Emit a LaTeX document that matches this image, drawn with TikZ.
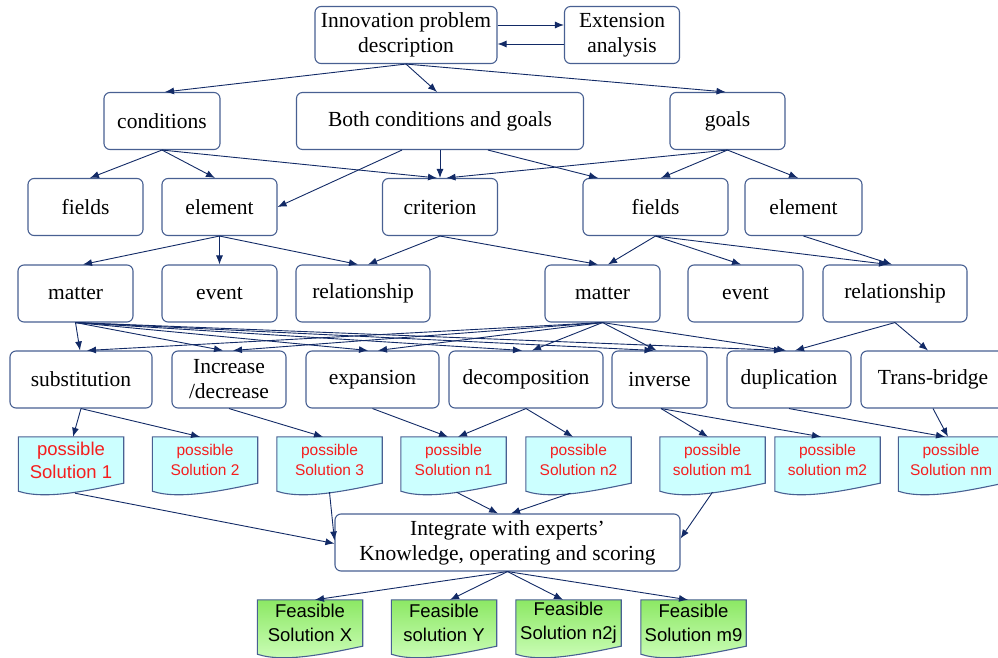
\documentclass[tikz,border=0pt]{standalone}
\usepackage{fontspec}
\setmainfont{Liberation Serif}
\setsansfont{Liberation Sans}
\usepackage{xcolor}
\usetikzlibrary{arrows.meta}
\usetikzlibrary{backgrounds}
\definecolor{boxline}{RGB}{72,96,146}
\definecolor{arrowc}{RGB}{18,42,102}
\definecolor{possfill}{RGB}{204,255,255}
\definecolor{posstext}{RGB}{245,30,30}
\definecolor{feastop}{RGB}{140,232,100}
\definecolor{feasbot}{RGB}{208,255,190}
\tikzset{box/.style={draw=boxline, line width=1.1pt, rounded corners=6pt, fill=white,
   align=center, inner sep=0pt, minimum height=57pt, font=\fontsize{21.5}{25}\selectfont},
 poss/.style={minimum width=105pt, minimum height=46pt, inner sep=0pt, align=center,
   text=posstext, font=\sffamily\fontsize{15.5}{19.5}\selectfont},
 feas/.style={poss, text=black, font=\sffamily\fontsize{18.5}{24}\selectfont},
 docline/.style={draw=boxline, line width=1.1pt},
 arr/.style={draw=arrowc, line width=0.9pt, -{Latex[length=9pt,width=7pt]}},
 }

\begin{document}
\begin{tikzpicture}[x=1pt, y=-1pt]
        \useasboundingbox (0,0) rectangle (998,658);
        \node[box, minimum width=182pt] (ipd) at (406,35) {Innovation problem\\description};
        \node[box, minimum width=115pt] (ext) at (622,35) {Extension\\analysis};

        \node[box, minimum width=116pt] (cond) at (162,121) {conditions};
        \node[box, minimum width=287pt] (both) at (440,121) {Both conditions and goals};
        \node[box, minimum width=115pt] (goals) at (727.5,121) {goals};

        \node[box, minimum width=115pt] (fields1) at (85.5,207) {fields};
        \node[box, minimum width=115pt] (elem1) at (219.5,207) {element};
        \node[box, minimum width=115pt] (crit) at (440,207) {criterion};
        \node[box, minimum width=145pt] (fields2) at (655.5,207) {fields};
        \node[box, minimum width=117pt] (elem2) at (803.5,207) {element};

        \node[box, minimum width=115pt] (matter1) at (75.5,293.5) {matter};
        \node[box, minimum width=115pt] (event1) at (219.5,293.5) {event};
        \node[box, minimum width=134pt] (rel1) at (363,293.5) {relationship};
        \node[box, minimum width=115pt] (matter2) at (602.5,293.5) {matter};
        \node[box, minimum width=115pt] (event2) at (745.5,293.5) {event};
        \node[box, minimum width=144pt] (rel2) at (895,293.5) {relationship};

        \node[box, minimum width=142pt] (subst) at (81,379.5) {substitution};
        \node[box, minimum width=114pt] (incr) at (229,379.5) {Increase\\/decrease};
        \node[box, minimum width=133pt] (expa) at (372.5,379.5) {expansion};
        \node[box, minimum width=154pt] (deco) at (526,379.5) {decomposition};
        \node[box, minimum width=95pt] (inve) at (659.5,379.5) {inverse};
        \node[box, minimum width=124pt] (dupl) at (789,379.5) {duplication};
        \node[box, minimum width=144pt] (tran) at (933,379.5) {Trans-bridge};

        \node[poss, font=\sffamily\fontsize{18.5}{23}\selectfont] (ps1) at (71,460) {possible\\Solution 1};
        \node[poss] (ps2) at (205,460) {possible\\Solution 2};
        \node[poss] (ps3) at (329.5,460) {possible\\Solution 3};
        \node[poss] (psn1) at (453.5,460) {possible\\Solution n1};
        \node[poss] (psn2) at (578.5,460) {possible\\Solution n2};
        \node[poss] (psm1) at (712.5,460) {possible\\solution m1};
        \node[poss] (psm2) at (827.5,460) {possible\\solution m2};
        \node[poss] (psnm) at (951,460) {possible\\Solution nm};

        \node[box, minimum width=345pt] (integ) at (507.5,542.5) {Integrate with experts’\\Knowledge, operating and scoring};

        \node[feas] (fx) at (310,623) {Feasible\\Solution X};
        \node[feas] (fy) at (444,623) {Feasible\\solution Y};
        \node[feas] (fn2j) at (568.5,623) {Feasible\\Solution n2j};
        \node[feas] (fm9) at (693.5,623) {Feasible\\Solution m9};

        \begin{scope}[on background layer]
        \foreach \n in {ps1,ps2,ps3,psn1,psn2,psm1,psm2,psnm}
            \filldraw[docline, fill=possfill] (\n.north west) -- (\n.north east) -- (\n.south east)
                .. controls ([xshift=-34pt,yshift=-7pt]\n.south east) and ([xshift=27pt,yshift=-17pt]\n.south west)
                .. ([yshift=-8pt]\n.south west) -- cycle;
        \foreach \n in {fx,fy,fn2j,fm9}
            \shadedraw[docline, top color=feastop, bottom color=feasbot] (\n.north west) -- (\n.north east) -- (\n.south east)
                .. controls ([xshift=-34pt,yshift=-7pt]\n.south east) and ([xshift=27pt,yshift=-17pt]\n.south west)
                .. ([yshift=-8pt]\n.south west) -- cycle;
        \end{scope}

        \draw[arr] ([yshift=10pt]ipd.east) -- ([yshift=10pt]ext.west);
        \draw[arr] ([yshift=-9pt]ext.west) -- ([yshift=-9pt]ipd.east);
        \draw[arr] (ipd.south) -- ([xshift=3pt]cond.north);
        \draw[arr] (ipd.south) -- ([xshift=-3pt]both.north);
        \draw[arr] (ipd.south) -- ([xshift=-2pt]goals.north);

        \draw[arr] (cond.south) -- ([xshift=4.5pt]fields1.north);
        \draw[arr] (cond.south) -- ([xshift=-4.5pt]elem1.north);
        \draw[arr] (cond.south) -- ([xshift=-3pt]crit.north);
        \draw[arr] ([xshift=-38pt]both.south) -- (elem1.east);
        \draw[arr] (both.south) -- (crit.north);
        \draw[arr] ([xshift=48pt]both.south) -- ([xshift=-57.5pt]fields2.north);
        \draw[arr] (goals.south) -- ([xshift=6.5pt]crit.north);
        \draw[arr] (goals.south) -- ([xshift=5.5pt]fields2.north);
        \draw[arr] (goals.south) -- ([xshift=-5.5pt]elem2.north);

        \draw[arr] (elem1.south) -- ([xshift=7.5pt]matter1.north);
        \draw[arr] (elem1.south) -- (event1.north);
        \draw[arr] (elem1.south) -- ([xshift=-5pt]rel1.north);
        \draw[arr] (crit.south) -- ([xshift=5pt]rel1.north);
        \draw[arr] (crit.south) -- ([xshift=-4.5pt]matter2.north);
        \draw[arr] (fields2.south) -- ([xshift=5.5pt]matter2.north);
        \draw[arr] (fields2.south) -- ([xshift=-4.5pt]event2.north);
        \draw[arr] (fields2.south) -- ([xshift=-7pt]rel2.north);
        \draw[arr] (elem2.south) -- ([xshift=-3pt]rel2.north);

        \foreach \t/\s in {subst/-1pt, incr/-6pt, expa/-4.5pt, deco/-4pt, inve/-6pt, dupl/-6pt}
            \draw[arr] (matter1.south) -- ([xshift=\s]\t.north);
        \foreach \t/\s in {subst/6pt, incr/4pt, expa/5.5pt, deco/6pt, inve/-3pt, dupl/-3pt}
            \draw[arr] (matter2.south) -- ([xshift=\s]\t.north);
        \draw[arr] (rel2.south) -- ([xshift=6pt]dupl.north);
        \draw[arr] (rel2.south) -- ([xshift=-5pt]tran.north);

        \draw[arr] (subst.south) -- ([xshift=2pt]ps1.north);
        \draw[arr] (subst.south) -- ([xshift=-5pt]ps2.north);
        \draw[arr] (incr.south) -- ([xshift=-6.5pt]ps3.north);
        \draw[arr] (expa.south) -- ([xshift=-5.5pt]psn1.north);
        \draw[arr] (deco.south) -- ([xshift=4.5pt]psn1.north);
        \draw[arr] (deco.south) -- ([xshift=-5.5pt]psn2.north);
        \draw[arr] ([xshift=1.5pt]inve.south) -- ([xshift=-4.5pt]psm1.north);
        \draw[arr] ([xshift=1.5pt]inve.south) -- ([xshift=-6.5pt]psm2.north);
        \draw[arr] (dupl.south) -- ([xshift=-6pt]psnm.north);
        \draw[arr] (tran.south) -- ([xshift=-3pt]psnm.north);

        \draw[arr] ([xshift=4pt,yshift=-10pt]ps1.south) -- ([yshift=-1pt]integ.west);
        \draw[arr] ([yshift=-9pt]ps3.south) -- ([yshift=2pt]integ.west);
        \draw[arr] ([xshift=3pt,yshift=-9pt]psn1.south) -- ([xshift=-9.5pt]integ.north);
        \draw[arr] ([xshift=-8pt,yshift=-10pt]psn2.south) -- ([xshift=3.5pt]integ.north);
        \draw[arr] ([yshift=-9pt]psm1.south) -- ([yshift=4pt]integ.east);

        \draw[arr] (integ.south) -- ([xshift=5pt]fx.north);
        \draw[arr] (integ.south) -- ([xshift=6pt]fy.north);
        \draw[arr] (integ.south) -- ([xshift=-5.5pt]fn2j.north);
        \draw[arr] (integ.south) -- ([xshift=-5.5pt]fm9.north);
\end{tikzpicture}
\end{document}
